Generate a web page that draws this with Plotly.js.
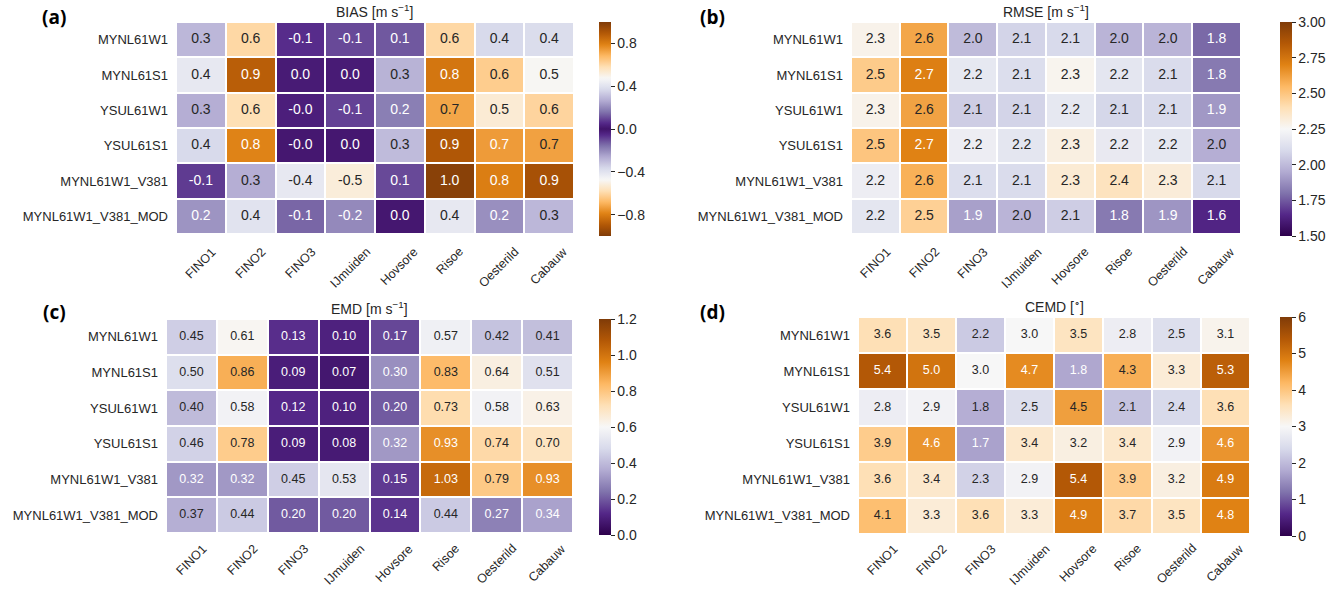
<!DOCTYPE html>
<html>
<head>
<meta charset="utf-8">
<script src="https://cdn.plot.ly/plotly-3.0.1.min.js"></script>
<style>html,body{margin:0;padding:0;background:#fff;}#chart{width:1333px;height:589px;}</style>
</head>
<body>
<div id="chart"></div>
<script>
// ---- data ----
const stations = ['FINO1','FINO2','FINO3','IJmuiden','Hovsore','Risoe','Oesterild','Cabauw'];
const configs = ['MYNL61W1','MYNL61S1','YSUL61W1','YSUL61S1','MYNL61W1_V381','MYNL61W1_V381_MOD'];

const bias = [
  [0.29, 0.60, -0.06, -0.10, 0.12, 0.60, 0.37, 0.38],
  [0.42, 0.88, 0.02, 0.02, 0.28, 0.82, 0.63, 0.48],
  [0.27, 0.58, -0.03, -0.09, 0.18, 0.72, 0.53, 0.61],
  [0.37, 0.79, -0.01, 0.01, 0.30, 0.90, 0.74, 0.73],
  [-0.08, 0.27, -0.42, -0.52, 0.10, 0.98, 0.80, 0.92],
  [0.22, 0.40, -0.14, -0.20, 0.01, 0.42, 0.21, 0.29]
];
const rmse = [
  [2.28, 2.60, 2.00, 2.08, 2.10, 1.98, 1.98, 1.78],
  [2.48, 2.71, 2.17, 2.12, 2.27, 2.16, 2.11, 1.82],
  [2.28, 2.61, 2.06, 2.08, 2.17, 2.09, 2.10, 1.90],
  [2.50, 2.70, 2.20, 2.16, 2.30, 2.18, 2.17, 1.96],
  [2.20, 2.57, 2.12, 2.11, 2.33, 2.38, 2.32, 2.10],
  [2.16, 2.46, 1.92, 1.98, 2.06, 1.82, 1.89, 1.64]
];
const emd = [
  [0.45, 0.61, 0.13, 0.10, 0.17, 0.57, 0.42, 0.41],
  [0.50, 0.86, 0.09, 0.07, 0.30, 0.83, 0.64, 0.51],
  [0.40, 0.58, 0.12, 0.10, 0.20, 0.73, 0.58, 0.63],
  [0.46, 0.78, 0.09, 0.08, 0.32, 0.93, 0.74, 0.70],
  [0.32, 0.32, 0.45, 0.53, 0.15, 1.03, 0.79, 0.93],
  [0.37, 0.44, 0.20, 0.20, 0.14, 0.44, 0.27, 0.34]
];
const cemd = [
  [3.6, 3.5, 2.2, 3.0, 3.5, 2.8, 2.5, 3.1],
  [5.4, 5.0, 3.0, 4.7, 1.76, 4.3, 3.3, 5.3],
  [2.8, 2.9, 1.84, 2.5, 4.48, 2.1, 2.4, 3.6],
  [3.9, 4.6, 1.7, 3.4, 3.2, 3.4, 2.9, 4.6],
  [3.6, 3.4, 2.3, 2.9, 5.4, 3.9, 3.2, 4.9],
  [4.1, 3.3, 3.6, 3.3, 4.9, 3.7, 3.5, 4.8]
];
const biasTicks = [0.8, 0.4, 0.0, -0.4, -0.8];
const biasTickText = ['0.8', '0.4', '0.0', '\u22120.4', '\u22120.8'];
const rmseTicks = [1.5, 1.75, 2.0, 2.25, 2.5, 2.75, 3.0];
const emdTicks = [0, 0.2, 0.4, 0.6, 0.8, 1.0, 1.2];
const cemdTicks = [0, 1, 2, 3, 4, 5, 6];

// ---- style helpers ----
const W = 1333, H = 589;
const FONT = 'Liberation Sans, Arial, sans-serif';
const DARK = '#262626';
const PuOr_r = ['#2d004b','#542788','#8073ac','#b2abd2','#d8daeb','#f7f7f7','#fee0b6','#fdb863','#e08214','#b35806','#7f3b08'];
function hex2rgb(h){return [parseInt(h.slice(1,3),16),parseInt(h.slice(3,5),16),parseInt(h.slice(5,7),16)];}
function cmap(t){
  t = Math.max(0, Math.min(1, t));
  const n = PuOr_r.length - 1;
  const i = Math.min(n - 1, Math.floor(t * n));
  const f = t * n - i;
  const a = hex2rgb(PuOr_r[i]), b = hex2rgb(PuOr_r[i+1]);
  return a.map((v, k) => v + (b[k] - v) * f);
}
function rgbStr(c){return 'rgb(' + c.map(v => Math.round(v)).join(',') + ')';}
function lum(c){
  const l = c.map(v => { v /= 255; return v <= 0.03928 ? v / 12.92 : Math.pow((v + 0.055) / 1.055, 2.4); });
  return 0.2126 * l[0] + 0.7152 * l[1] + 0.0722 * l[2];
}
const stdScale = PuOr_r.map((c, i) => [i / (PuOr_r.length - 1), c]);
// bias: colour depends on |bias|
const biasT = v => 0.05 + 0.95 * Math.abs(v);
const biasScale = [];
for (let k = 0; k <= 100; k++) { const p = k / 100; const z = -1 + 2 * p; biasScale.push([p, rgbStr(cmap(biasT(z)))]); }

const px = x => x / W;
const py = y => 1 - y / H;

const panels = [
  {z: bias, zmin: -1, zmax: 1, scale: biasScale, tfun: biasT, dec: 1, fs: 14,
   xd: [176, 574], yd: [22, 234], cbx: 599, cb: {tickvals: biasTicks, ticktext: biasTickText},
   title: 'BIAS [m s<sup>\u22121</sup>]', lab: '(a)', lx: 54, ly: 17, lo: 8},
  {z: rmse, zmin: 1.5, zmax: 3.0, scale: stdScale, tfun: v => (v - 1.5) / 1.5, dec: 1, fs: 14,
   xd: [851, 1241], yd: [22, 234], cbx: 1280, cb: {tickvals: rmseTicks, tickformat: '.2f'},
   title: 'RMSE [m s<sup>\u22121</sup>]', lab: '(b)', lx: 713, ly: 17, lo: 8},
  {z: emd, zmin: 0, zmax: 1.2, scale: stdScale, tfun: v => v / 1.2, dec: 2, fs: 12.5,
   xd: [166, 573], yd: [319, 533], cbx: 599, cb: {tickvals: emdTicks, tickformat: '.1f'},
   title: 'EMD [m s<sup>\u22121</sup>]', lab: '(c)', lx: 54, ly: 312, lo: 6},
  {z: cemd, zmin: 0, zmax: 6, scale: stdScale, tfun: v => v / 6, dec: 1, fs: 12.5,
   xd: [858, 1250], yd: [317, 534], cbx: 1280, cb: {tickvals: cemdTicks, tickformat: 'd'},
   title: 'CEMD [<sup>\u2218</sup>]', lab: '(d)', lx: 713, ly: 312, lo: 5}
];

const traces = [];
const layout = {
  width: W, height: H, margin: {l: 0, r: 0, t: 0, b: 0},
  paper_bgcolor: '#fff', plot_bgcolor: '#fff', showlegend: false,
  font: {family: FONT, color: DARK, size: 13},
  annotations: []
};

panels.forEach((P, i) => {
  const s = i === 0 ? '' : String(i + 1);
  const xa = 'x' + s, ya = 'y' + s;
  traces.push({
    type: 'heatmap', x: stations, y: configs, z: P.z, zmin: P.zmin, zmax: P.zmax,
    colorscale: P.scale, xgap: 2, ygap: 2, xaxis: xa, yaxis: ya, hoverinfo: 'skip',
    colorbar: Object.assign({
      x: px(P.cbx), xanchor: 'left', xpad: 0, xref: 'paper',
      y: py(P.yd[0]), yanchor: 'top', ypad: 0, yref: 'paper',
      len: (P.yd[1] - P.yd[0] + 2) / H, lenmode: 'fraction',
      thickness: 12, thicknessmode: 'pixels', outlinewidth: 0,
      ticks: 'outside', ticklen: 4, tickwidth: 1, tickcolor: DARK,
      tickfont: {family: FONT, size: 14, color: DARK}
    }, P.cb)
  });
  const tx = [], ty = [], tt = [], tc = [];
  P.z.forEach((row, r) => row.forEach((v, c) => {
    tx.push(stations[c]); ty.push(configs[r]);
    tt.push(v.toFixed(P.dec));
    tc.push(lum(cmap(P.tfun(v))) > 0.42 ? DARK : '#ffffff');
  }));
  traces.push({
    type: 'scatter', mode: 'text', x: tx, y: ty, text: tt, xaxis: xa, yaxis: ya,
    textfont: {family: FONT, size: P.fs, color: tc}, textposition: 'middle center',
    hoverinfo: 'skip', cliponaxis: false
  });
  layout['xaxis' + s] = {
    domain: [px(P.xd[0]), px(P.xd[1])], anchor: ya, type: 'category',
    showticklabels: false, ticks: '', showgrid: false, zeroline: false, showline: false,
    fixedrange: true
  };
  layout['yaxis' + s] = {
    domain: [py(P.yd[1]), py(P.yd[0])], anchor: xa, type: 'category', autorange: 'reversed',
    ticks: '', showgrid: false, zeroline: false, showline: false,
    tickfont: {family: FONT, size: 13, color: DARK}, ticklabelstandoff: 7, fixedrange: true
  };
  // rotated station labels, centred under each column (matplotlib rotation=45 style)
  stations.forEach(st => {
    layout.annotations.push({
      xref: xa, yref: 'paper', x: st, y: py(P.yd[1] + P.lo),
      xanchor: 'center', yanchor: 'top', showarrow: false, text: st, textangle: -45,
      font: {family: FONT, size: 12.5, color: DARK}
    });
  });
  layout.annotations.push({
    xref: 'paper', yref: 'paper', x: px((P.xd[0] + P.xd[1]) / 2), y: py(P.yd[0] - 11),
    xanchor: 'center', yanchor: 'middle', showarrow: false, text: P.title,
    font: {family: FONT, size: 14, color: DARK}
  });
  layout.annotations.push({
    xref: 'paper', yref: 'paper', x: px(P.lx), y: py(P.ly),
    xanchor: 'center', yanchor: 'middle', showarrow: false, text: '<b>' + P.lab + '</b>',
    font: {family: 'Open Sans, sans-serif', size: 19, color: '#000'}
  });
});

Plotly.newPlot('chart', traces, layout, {displayModeBar: false, staticPlot: true});
</script>
</body>
</html>
